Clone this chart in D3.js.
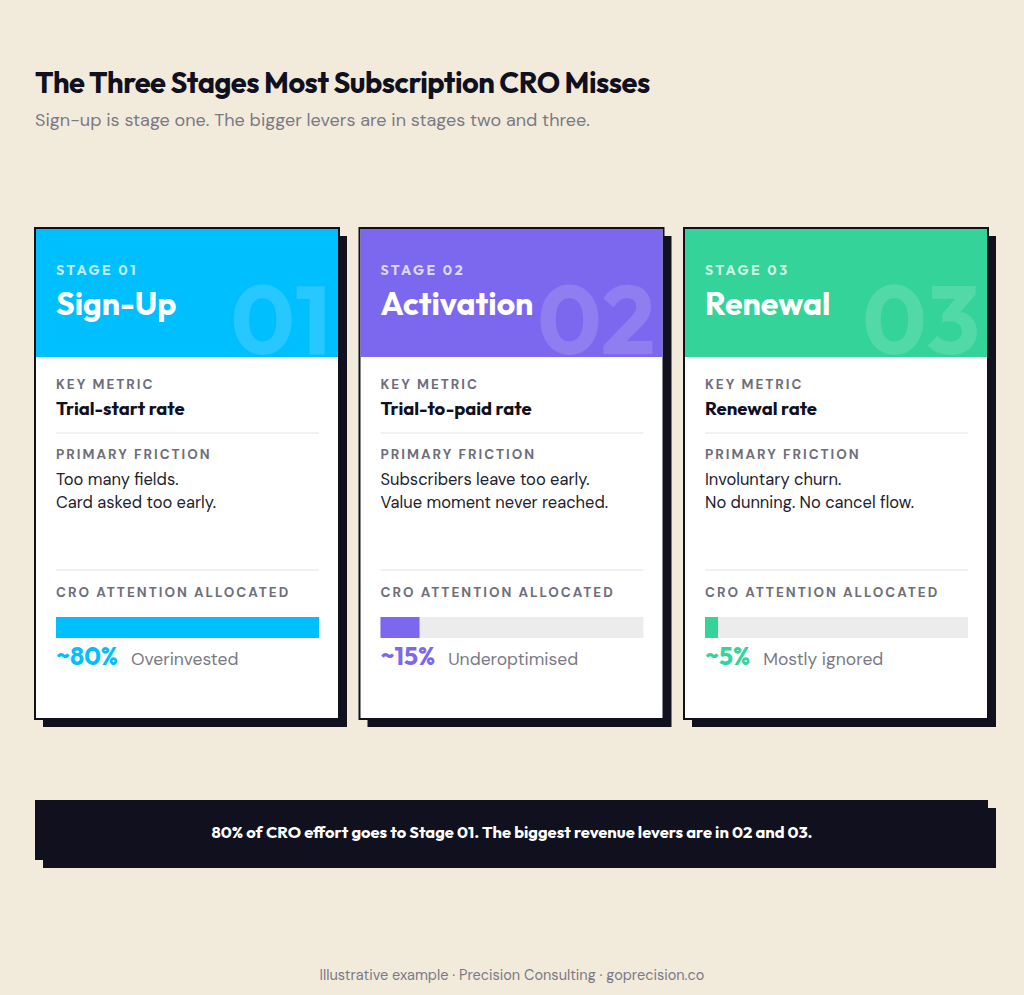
<!DOCTYPE html>
<html><head><meta charset="utf-8">
<script src="https://cdn.jsdelivr.net/npm/d3@7"></script>
<style>body{margin:0;background:#f2ebdb}</style>
</head><body><svg id="c"></svg>
<script>
const stages = ["01", "02", "03"];
const names = ["Sign-Up", "Activation", "Renewal"];
const colors = ["#00bfff", "#7b68ee", "#34d399"];
const metrics = ["Trial-start rate", "Trial-to-paid rate", "Renewal rate"];
const frictions = [["Too many fields.", "Card asked too early."],
  ["Subscribers leave too early.", "Value moment never reached."],
  ["Involuntary churn.", "No dunning. No cancel flow."]];
const attention = [80, 15, 5];
const verdicts = ["Overinvested", "Underoptimised", "Mostly ignored"];

const W = 1024, H = 995, ink = "#10101f";
const head = "Outfit, Inter, sans-serif", body = "'DM Sans', Inter, sans-serif";
const svg = d3.select("#c").attr("width", W).attr("height", H);
svg.append("rect").attr("width", W).attr("height", H).attr("fill", "#f2ebdb");

svg.append("text").attr("x", 35).attr("y", 93).attr("font-family", head).attr("font-weight", 700)
  .attr("font-size", 29).attr("fill", ink).attr("letter-spacing", -0.5).text("The Three Stages Most Subscription CRO Misses");
svg.append("text").attr("x", 35).attr("y", 126).attr("font-family", body).attr("font-size", 18)
  .attr("fill", "#7a7a86").text("Sign-up is stage one. The bigger levers are in stages two and three.");

const cardW = 304, cardTop = 228, cardH = 491, headH = 128;
const x = d3.scalePoint().domain(stages).range([35, 684]);
const trackW = 263;
// bar fill as drawn in the reference (not proportional above 15%)
const bar = d3.scaleLinear().domain([0, 15, 80]).range([0, 39, trackW]);

stages.forEach((s, i) => {
  const g = svg.append("g").attr("transform", `translate(${x(s)},${cardTop})`);
  g.append("rect").attr("x", 8).attr("y", 8).attr("width", cardW).attr("height", cardH).attr("fill", ink);
  g.append("rect").attr("width", cardW).attr("height", cardH).attr("fill", "#fff").attr("stroke", ink).attr("stroke-width", 2);
  g.append("rect").attr("x", 1).attr("y", 1).attr("width", cardW - 2).attr("height", headH).attr("fill", colors[i]);
  g.append("text").attr("x", cardW - 8).attr("y", headH - 2).attr("text-anchor", "end").attr("font-family", head)
    .attr("font-weight", 700).attr("font-size", 96).attr("fill", "#fff").attr("fill-opacity", 0.15).text(s);
  g.append("text").attr("x", 21).attr("y", 47).attr("font-family", head).attr("font-weight", 700).attr("font-size", 14)
    .attr("letter-spacing", 2.5).attr("fill", "#fff").attr("fill-opacity", 0.75).text("STAGE " + s);
  g.append("text").attr("x", 21).attr("y", 87).attr("font-family", head).attr("font-weight", 700).attr("font-size", 32)
    .attr("fill", "#fff").text(names[i]);

  const lab = (y, t) => g.append("text").attr("x", 21).attr("y", y).attr("font-family", body).attr("font-weight", 700)
    .attr("font-size", 13.5).attr("letter-spacing", 2).attr("fill", "#6e6e7a").text(t);
  lab(161, "KEY METRIC");
  g.append("text").attr("x", 21).attr("y", 187).attr("font-family", head).attr("font-weight", 700).attr("font-size", 18.5)
    .attr("fill", ink).text(metrics[i]);
  g.append("line").attr("x1", 21).attr("x2", 21 + trackW).attr("y1", 205).attr("y2", 205).attr("stroke", "#e2e2e2");
  lab(231, "PRIMARY FRICTION");
  frictions[i].forEach((t, j) => g.append("text").attr("x", 21).attr("y", 257 + j * 23).attr("font-family", body)
    .attr("font-size", 16.5).attr("fill", "#22222e").text(t));
  g.append("line").attr("x1", 21).attr("x2", 21 + trackW).attr("y1", 342).attr("y2", 342).attr("stroke", "#e2e2e2");
  lab(369, "CRO ATTENTION ALLOCATED");
  g.append("rect").attr("x", 21).attr("y", 389).attr("width", trackW).attr("height", 21).attr("fill", "#ececec");
  g.append("rect").attr("x", 21).attr("y", 389).attr("width", bar(attention[i])).attr("height", 21).attr("fill", colors[i]);
  const pct = g.append("text").attr("x", 21).attr("y", 437).attr("font-family", head).attr("font-weight", 700)
    .attr("font-size", 25).attr("fill", colors[i]).text("~" + attention[i] + "%");
  const pw = pct.node().getComputedTextLength();
  g.append("text").attr("x", 21 + pw + 13).attr("y", 437).attr("font-family", body).attr("font-size", 17.5)
    .attr("fill", "#7a7a86").text(verdicts[i]);
});

svg.append("rect").attr("x", 43).attr("y", 808).attr("width", 953).attr("height", 60).attr("fill", ink);
svg.append("rect").attr("x", 35).attr("y", 800).attr("width", 953).attr("height", 60).attr("fill", ink);
svg.append("text").attr("x", 512).attr("y", 838).attr("text-anchor", "middle").attr("font-family", head)
  .attr("font-weight", 700).attr("font-size", 16.5).attr("fill", "#fff")
  .text("80% of CRO effort goes to Stage 01. The biggest revenue levers are in 02 and 03.");
svg.append("text").attr("x", 512).attr("y", 980).attr("text-anchor", "middle").attr("font-family", body)
  .attr("font-size", 14.5).attr("fill", "#7a7a86").text("Illustrative example · Precision Consulting · goprecision.co");
</script></body></html>
